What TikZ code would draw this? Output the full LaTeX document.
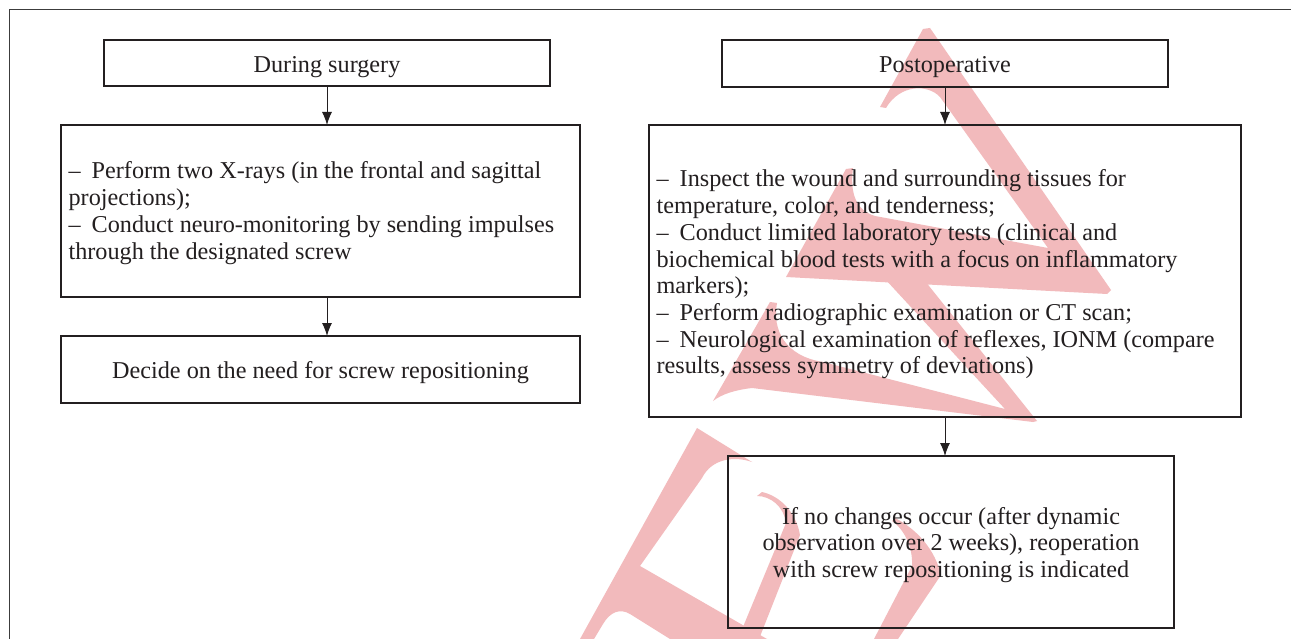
\documentclass[tikz,border=0pt]{standalone}
\usepackage{fontspec}
\setmainfont{Liberation Serif}
\usetikzlibrary{arrows.meta}
\definecolor{wm}{RGB}{242,186,188}
\definecolor{ink}{RGB}{35,31,32}
\definecolor{framec}{RGB}{60,60,60}
\newcommand\itemdash{–\hspace{11pt}}
\begin{document}
\begin{tikzpicture}[x=1pt,y=-1pt,
  box/.style={draw=ink, line width=1.2pt, inner sep=0pt, outer sep=0pt, rectangle},
  txt/.style={inner sep=0pt, outer sep=0pt, anchor=base west, text=ink, font=\fontsize{24.2}{27}\selectfont},
  ctxt/.style={txt, anchor=base},
  arr/.style={-{Latex[length=13pt,width=10pt]}, line width=1pt, draw=ink}]
\useasboundingbox (0,0) rectangle (1291,639);
\fill[white] (0,0) rectangle (1291,639);
% watermark fragments
\fill[wm] (786,277) -- (846,169) -- (853,168) .. controls (850,192) and (855,210) .. (875,216)
  -- (1048,248) -- (940,97) .. controls (928,84) and (900,84) .. (886,108)
  -- (880,107) -- (923,29) -- (930,28) -- (1111,290) -- (1107,294) -- cycle;
\fill[wm] (713,401) -- (770,302) -- (777,303) .. controls (772,330) and (785,356) .. (823,362)
  -- (1005,409) -- (885,279) -- (925,281) -- (1037,421) -- (1033,422)
  -- (752,388) .. controls (735,390) and (722,394) .. (713,401) -- cycle;
\fill[wm] (697,428) -- (752,462) .. controls (735,456) and (712,458) .. (702,478)
  -- (640,566) -- (767,639) -- (670,639) -- (630,614) .. controls (620,608) and (610,612) .. (603,624)
  -- (594,639) -- (580,639) -- cycle;
\fill[wm] (757,496) .. controls (771,496) and (784,507) .. (786,523) -- (738,639) -- (759,639)
  -- (800,535) .. controls (796,512) and (780,496) .. (762,492) -- cycle;
\fill[wm] (895,518) .. controls (918,530) and (935,550) .. (941,575) -- (898,639) -- (874,639)
  -- (912,566) .. controls (913,548) and (905,530) .. (892,521) -- cycle;
% frame
\draw[framec, line width=1pt] (9,639) -- (9,10) -- (1291,10);
% boxes
\node[box, minimum width=446pt, minimum height=46pt] (A) at (327,63) {};
\node[box, minimum width=519pt, minimum height=172pt] (B) at (320.5,211) {};
\node[box, minimum width=519pt, minimum height=67pt] (C) at (320.5,369.5) {};
\node[box, minimum width=446pt, minimum height=47pt] (D) at (945,63.5) {};
\node[box, minimum width=592pt, minimum height=292pt] (E) at (945,271) {};
\node[box, minimum width=446pt, minimum height=172pt] (F) at (951,542) {};
% arrows
\draw[arr] (A.south) -- (A.south |- B.north);
\draw[arr] (A.south |- B.south) -- (A.south |- C.north);
\draw[arr] (D.south) -- (D.south |- E.north);
\draw[arr] (E.south) -- (E.south |- F.north);
% texts
\node[ctxt] (tA) at (327,72.7) {During surgery};
\node[ctxt] (tD) at (945,72.7) {Postoperative};
\node[ctxt] (tC) at (320.5,378) {Decide on the need for screw repositioning};
\node[txt] (b1) at (68.6,179) {\itemdash Perform two X-rays (in the frontal and sagittal};
\node[txt] (b2) at (68.6,205.7) {projections);};
\node[txt] (b3) at (68.6,232.4) {\itemdash Conduct neuro-monitoring by sending impulses};
\node[txt] (b4) at (68.6,259.1) {through the designated screw};
\node[txt] (e1) at (656.6,187) {\itemdash Inspect the wound and surrounding tissues for};
\node[txt] (e2) at (656.6,213.7) {temperature, color, and tenderness;};
\node[txt] (e3) at (656.6,240.4) {\itemdash Conduct limited laboratory tests (clinical and};
\node[txt] (e4) at (656.6,267.1) {biochemical blood tests with a focus on inflammatory};
\node[txt] (e5) at (656.6,293.8) {markers);};
\node[txt] (e6) at (656.6,320.5) {\itemdash Perform radiographic examination or CT scan;};
\node[txt] (e7) at (656.6,347.2) {\itemdash Neurological examination of reflexes, IONM (compare};
\node[txt] (e8) at (656.6,373.9) {results, assess symmetry of deviations)};
\node[ctxt] (f1) at (951,524) {If no changes occur (after dynamic};
\node[ctxt] (f2) at (951,550.5) {observation over 2 weeks), reoperation};
\node[ctxt] (f3) at (951,577) {with screw repositioning is indicated};
\end{tikzpicture}
\end{document}
